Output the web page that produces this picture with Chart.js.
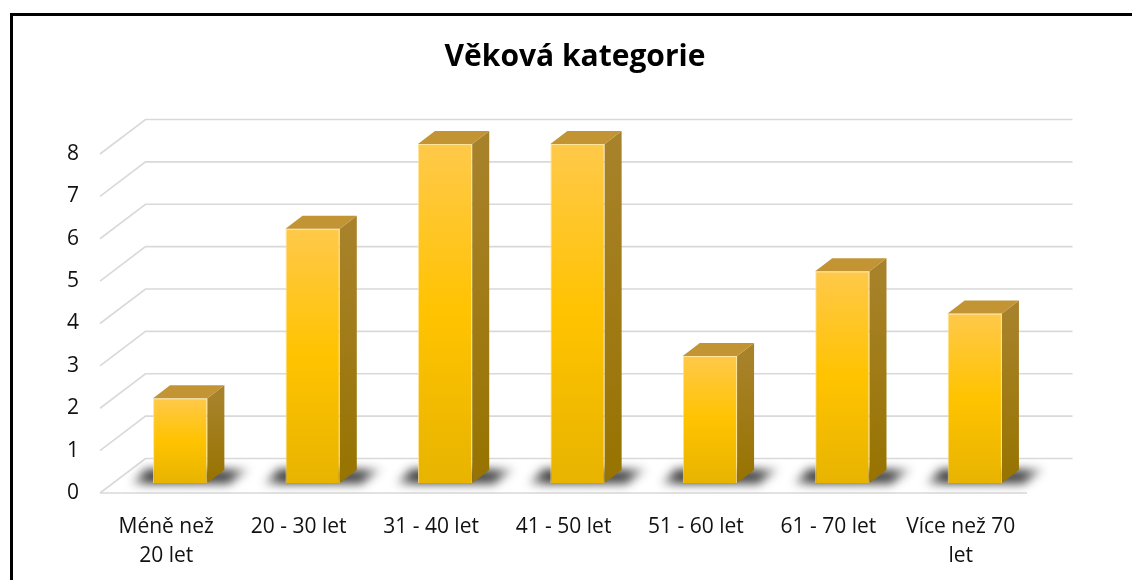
<!DOCTYPE html>
<html>
<head>
<meta charset="utf-8">
<script src="https://cdn.jsdelivr.net/npm/chart.js@4.4.1/dist/chart.umd.min.js"></script>
<style>
  html, body { margin: 0; padding: 0; background: #fff; overflow: hidden; }
  #wrap { width: 1132px; height: 580px; }
</style>
</head>
<body>
<div id="wrap"><canvas id="ageChart" width="1132" height="580"></canvas></div>
<script>
// data
const categories = [['Méně než', '20 let'], '20 - 30 let', '31 - 40 let', '41 - 50 let', '51 - 60 let', '61 - 70 let', ['Více než 70', 'let']];
const counts = [2, 6, 8, 8, 3, 5, 4];
const yTicks = [0, 1, 2, 3, 4, 5, 6, 7, 8];
const chartTitle = 'Věková kategorie';

// fake 3D geometry (offsets in px, relative to the front plane)
const BAR_OFF = { x: 14, y: -10 };   // bars stand a bit behind the front edge
const BACK_OFF = { x: 45.5, y: -34.5 }; // back wall
const DEPTH = { x: 17, y: -13 };     // bar depth
const GRID = '#d9d9d9';

Chart.defaults.font.family = "'Open Sans', sans-serif";
Chart.defaults.color = '#111';

const floor3d = {
  id: 'floor3d',
  beforeDatasetsDraw(chart) {
    const { ctx, chartArea: a, scales: { y } } = chart;
    ctx.save();
    ctx.strokeStyle = GRID;
    ctx.lineWidth = 1.6;
    yTicks.forEach(v => {
      const py = y.getPixelForValue(v);
      ctx.beginPath();
      ctx.moveTo(a.left, py);
      ctx.lineTo(a.left + BACK_OFF.x, py + BACK_OFF.y);
      ctx.lineTo(a.right + BACK_OFF.x, py + BACK_OFF.y);
      ctx.stroke();
    });
    const y0 = y.getPixelForValue(0);
    ctx.beginPath();
    ctx.moveTo(a.left, y0);
    ctx.lineTo(a.right, y0);
    ctx.stroke();

    // soft shadows on the floor, spread left and right of each bar
    ctx.filter = 'blur(5px)';
    chart.getDatasetMeta(0).data.forEach(el => {
      const l = el.x - el.width / 2 + BAR_OFF.x;
      const r = el.x + el.width / 2 + BAR_OFF.x;
      const b = el.base + BAR_OFF.y;
      const g = ctx.createLinearGradient(l - 28, 0, r + DEPTH.x + 30, 0);
      const span = (r + DEPTH.x + 30) - (l - 28);
      g.addColorStop(0, 'rgba(0,0,0,0)');
      g.addColorStop(24 / span, 'rgba(20,20,20,0.8)');
      g.addColorStop(1 - 26 / span, 'rgba(20,20,20,0.75)');
      g.addColorStop(1, 'rgba(0,0,0,0)');
      ctx.fillStyle = g;
      ctx.beginPath();
      ctx.moveTo(l - 22, b + 1);
      ctx.lineTo(r + 22, b + 1);
      ctx.lineTo(r + DEPTH.x + 26, b + DEPTH.y - 1);
      ctx.lineTo(l - 8, b + DEPTH.y - 1);
      ctx.closePath();
      ctx.fill();
    });
    ctx.filter = 'none';
    ctx.restore();

    ctx.save();
    ctx.translate(BAR_OFF.x, BAR_OFF.y);
  },
  afterDatasetsDraw(chart) {
    const { ctx } = chart;
    ctx.restore();
    ctx.save();
    chart.getDatasetMeta(0).data.forEach(el => {
      const l = el.x - el.width / 2 + BAR_OFF.x;
      const r = el.x + el.width / 2 + BAR_OFF.x;
      const t = el.y + BAR_OFF.y;
      const b = el.base + BAR_OFF.y;
      // side face
      const gs = ctx.createLinearGradient(0, t, 0, b);
      gs.addColorStop(0, '#a8822a');
      gs.addColorStop(1, '#977300');
      ctx.fillStyle = gs;
      ctx.beginPath();
      ctx.moveTo(r, t);
      ctx.lineTo(r + DEPTH.x, t + DEPTH.y);
      ctx.lineTo(r + DEPTH.x, b + DEPTH.y);
      ctx.lineTo(r, b);
      ctx.closePath();
      ctx.fill();
      // top face
      ctx.fillStyle = '#c29434';
      ctx.beginPath();
      ctx.moveTo(l, t);
      ctx.lineTo(l + DEPTH.x, t + DEPTH.y);
      ctx.lineTo(r + DEPTH.x, t + DEPTH.y);
      ctx.lineTo(r, t);
      ctx.closePath();
      ctx.fill();
    });
    ctx.restore();
  },
  afterDraw(chart) {
    const { ctx } = chart;
    ctx.save();
    ctx.strokeStyle = '#000';
    ctx.lineWidth = 3;
    ctx.strokeRect(11.5, 14.5, 1300, 800);
    ctx.restore();
  }
};

new Chart(document.getElementById('ageChart'), {
  type: 'bar',
  data: {
    labels: categories,
    datasets: [{
      label: chartTitle,
      data: counts,
      clip: false,
      backgroundColor: c => {
        const y = c.chart.scales.y;
        if (c.type !== 'data' || !y) return '#ffc000';
        const top = y.getPixelForValue(c.raw);
        const base = y.getPixelForValue(0);
        if (!isFinite(top) || !isFinite(base) || top === base) return '#ffc000';
        const g = c.chart.ctx.createLinearGradient(0, top, 0, base);
        g.addColorStop(0, '#ffc94a');
        g.addColorStop(0.5, '#ffc300');
        g.addColorStop(1, '#e8b400');
        return g;
      },
      borderColor: 'rgba(255,226,140,0.9)',
      borderWidth: 1,
      barPercentage: 0.41,
      categoryPercentage: 1
    }]
  },
  options: {
    responsive: false,
    devicePixelRatio: 1,
    animation: false,
    layout: { padding: { left: 18, right: 0, top: 0, bottom: 0 } },
    plugins: {
      legend: { display: false },
      tooltip: { enabled: false },
      title: {
        display: true,
        text: chartTitle,
        color: '#000',
        font: { size: 30, weight: 'bold' },
        padding: { top: 39, bottom: 79 }
      }
    },
    scales: {
      x: {
        grid: { display: false, drawTicks: false },
        border: { display: false },
        ticks: { font: { size: 21, lineHeight: 1.4 }, padding: 19, maxRotation: 0, autoSkip: false },
        afterFit: s => { s.height = 87; }
      },
      y: {
        min: 0,
        max: 8,
        grid: { display: false, drawTicks: false },
        border: { display: false },
        ticks: { stepSize: 1, font: { size: 21 }, padding: 21 },
        afterFit: s => { s.width = 82; }
      },
      // empty right-hand axis, only reserves the space right of the floor
      yRight: {
        type: 'linear',
        position: 'right',
        grid: { display: false, drawTicks: false },
        border: { display: false },
        ticks: { display: false },
        afterFit: s => { s.width = 105; }
      }
    }
  },
  plugins: [floor3d]
});
</script>
</body>
</html>
